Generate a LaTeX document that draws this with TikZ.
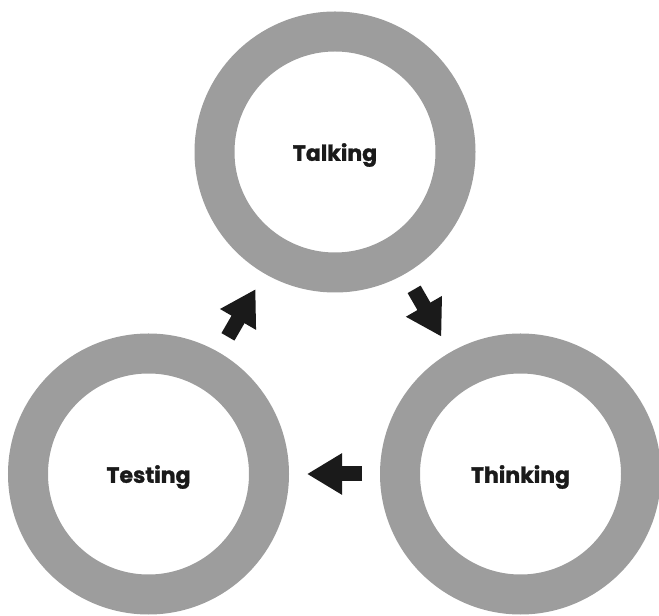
\documentclass[tikz,border=0pt]{standalone}
\usepackage{fontspec}
\newfontfamily\labelfont{Poppins}[BoldFeatures={FakeBold=1.3}]
\usetikzlibrary{arrows.meta}
\definecolor{ringgray}{RGB}{157,157,157}
\definecolor{arrowblack}{RGB}{26,26,26}

\begin{document}
\begin{tikzpicture}[x = 1pt, y = 1pt]
				\tikzset{ring/.style = {shape=circle, draw = ringgray, line width = 40pt, minimum size = 241pt, inner sep = 0pt, text depth = 0pt, font = \labelfont\bfseries\fontsize{22}{24}\selectfont, text = arrowblack}}
				\tikzset{flow/.style = {draw = arrowblack, line width = 15pt, -{Triangle[length = 35pt, width = 39pt]}, shorten < = 18pt, shorten > = 18pt}}
				
				\useasboundingbox (0,0) rectangle (659,616);
				
				%\node[] (label_top) at (335,600) {cycle};
				
				\node[ring] (talk) at (335,464) {Talking};
				\node[ring] (think) at (520.5,142) {Thinking};
				\node[ring] (test) at (148.5,142) {Testing};
				
				\draw[flow] (talk) to (think);
				\draw[flow] (think) to (test);
				\draw[flow] (test) to (talk);
				
			\end{tikzpicture}
\end{document}
